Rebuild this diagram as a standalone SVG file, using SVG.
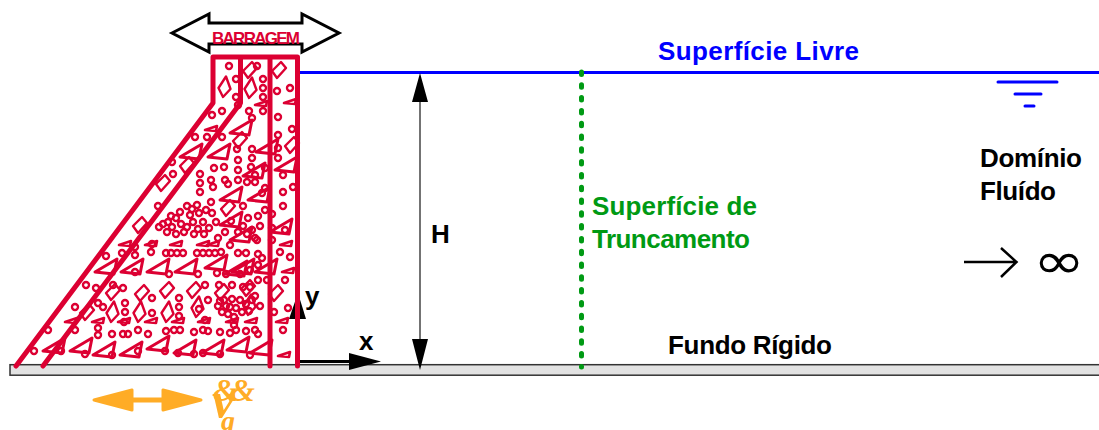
<svg xmlns="http://www.w3.org/2000/svg" width="1099" height="430" viewBox="0 0 1099 430">
<style>
text{font-family:"Liberation Sans",Arial,sans-serif;font-weight:bold;font-size:26px;fill:#000}
.r{fill:none;stroke:#dc0032;stroke-width:2.4;stroke-linejoin:round}
.w{fill:none;stroke:#dc0032;stroke-width:5;stroke-linejoin:round;stroke-linecap:round}
.b{fill:none;stroke:#0000ff;stroke-width:3;stroke-linecap:round}
.o{font-family:"Liberation Serif",serif;font-style:italic}
</style>
<defs>
<circle id="c" r="3" class="r"/>
<path id="t" class="r" style="stroke-width:3" d="M0 0L22-13 19 2Z"/>
<path id="s" class="r" style="stroke-width:2.6" d="M0 0L12-4 11 1Z"/>
<path id="d" class="r" d="M1-10.5L5.5 2-2 10-6.500 1Z"/>
<path id="e" class="r" d="M2-8L7-2-2 8-7 1Z"/>
</defs>
<g id="floor"><rect x="10" y="364.7" width="1095" height="10.5" fill="#e2e2e2" stroke="#333" stroke-width="1.5"/></g>
<g id="connectors">
<path class="b" d="M300 72.5H1099"/>
<path class="b" d="M998 82H1057M1015 94H1041M1025 106H1034"/>
<path d="M420 90V350" stroke="#444" stroke-width="1.5"/>
<path d="M420 73L428 102H412ZM420 370L428 339H412Z" fill="#000"/>
<path d="M581.5 72V367" fill="none" stroke="#009a14" stroke-width="5" stroke-linecap="round" stroke-dasharray="2.5 10.3"/>
<path d="M299 361.5H355" stroke="#000" stroke-width="3"/>
<path d="M381 361.5L349 353V370Z" fill="#000"/>
<path d="M298 293L306 319H289Z" fill="#000"/>
<path d="M964 262H1016M1001 248L1016.500 262 1001 277" fill="none" stroke="#000" stroke-width="2.500"/>
<path d="M94 400L132 390V410ZM201 400L163 390V410Z" fill="#ffac26" stroke="#ffac26" stroke-width="3" stroke-linejoin="round"/>
<path d="M130 400H165" stroke="#ffac26" stroke-width="5"/>
</g>
<g id="barragem-seta"><path d="M172 33L209 14V23H302V14L339 33 302 52V44H209V52Z" fill="#fff" stroke="#000" stroke-width="3"/></g>
<g id="barragem">
<path class="w" d="M16 366L213 103V57H297.500V366M43 366L240.500 103V57M270 57V366"/>
<g>
<use href="#c" x="229" y="66"/><use href="#c" x="236" y="79"/><use href="#c" x="236" y="97"/><use href="#c" x="257" y="66"/><use href="#c" x="263" y="79"/><use href="#c" x="263" y="88"/><use href="#c" x="263" y="97"/><use href="#c" x="277" y="91"/><use href="#c" x="290" y="88"/><use href="#c" x="212" y="115"/><use href="#c" x="222" y="111"/><use href="#c" x="249" y="111"/><use href="#c" x="238" y="105"/><use href="#c" x="263" y="111"/><use href="#c" x="278" y="117"/><use href="#c" x="292" y="129"/><use href="#c" x="252" y="118"/><use href="#c" x="278" y="148"/><use href="#c" x="195" y="137"/><use href="#c" x="207" y="137"/><use href="#c" x="222" y="137"/><use href="#c" x="237" y="149"/><use href="#c" x="252" y="149"/><use href="#c" x="278" y="135"/><use href="#c" x="252" y="158"/><use href="#c" x="278" y="158"/>
<use href="#c" x="172" y="162"/><use href="#c" x="173" y="174"/><use href="#c" x="200" y="174"/><use href="#c" x="200" y="183"/><use href="#c" x="200" y="192"/><use href="#c" x="211" y="202"/><use href="#c" x="211" y="180"/><use href="#c" x="213" y="187"/><use href="#c" x="224" y="167"/><use href="#c" x="214" y="168"/><use href="#c" x="225" y="180"/><use href="#c" x="228" y="184"/><use href="#c" x="238" y="170"/><use href="#c" x="238" y="160"/><use href="#c" x="238" y="180"/><use href="#c" x="251" y="167"/><use href="#c" x="255" y="175"/><use href="#c" x="247" y="182"/><use href="#c" x="255" y="182"/><use href="#c" x="283" y="175"/><use href="#c" x="283" y="192"/><use href="#c" x="283" y="206"/><use href="#c" x="293" y="187"/><use href="#c" x="265" y="168"/><use href="#c" x="265" y="188"/><use href="#c" x="243" y="206"/><use href="#c" x="231" y="221"/><use href="#c" x="262" y="193"/>
<use href="#c" x="158" y="206"/><use href="#c" x="187" y="206"/><use href="#c" x="192" y="209"/><use href="#c" x="197" y="205"/><use href="#c" x="199" y="213"/><use href="#c" x="206" y="210"/><use href="#c" x="212" y="213"/><use href="#c" x="159" y="227"/><use href="#c" x="168" y="222"/><use href="#c" x="172" y="227"/><use href="#c" x="167" y="232"/><use href="#c" x="176" y="218"/><use href="#c" x="181" y="224"/><use href="#c" x="176" y="234"/><use href="#c" x="187" y="227"/><use href="#c" x="193" y="222"/><use href="#c" x="198" y="229"/><use href="#c" x="203" y="222"/><use href="#c" x="194" y="234"/><use href="#c" x="204" y="234"/><use href="#c" x="209" y="228"/><use href="#c" x="216" y="222"/><use href="#c" x="238" y="232"/><use href="#c" x="243" y="226"/><use href="#c" x="247" y="234"/><use href="#c" x="252" y="230"/><use href="#c" x="260" y="226"/><use href="#c" x="255" y="238"/><use href="#c" x="272" y="228"/><use href="#c" x="285" y="230"/><use href="#c" x="272" y="240"/><use href="#c" x="272" y="214"/><use href="#c" x="163" y="224"/><use href="#c" x="171" y="216"/><use href="#c" x="184" y="232"/><use href="#c" x="190" y="215"/><use href="#c" x="180" y="212"/><use href="#c" x="225" y="232"/><use href="#c" x="218" y="238"/><use href="#c" x="265" y="210"/><use href="#c" x="258" y="216"/><use href="#c" x="248" y="218"/>
<use href="#c" x="152" y="244"/><use href="#c" x="135" y="255"/><use href="#c" x="122" y="253"/><use href="#c" x="135" y="247"/><use href="#c" x="151" y="252"/><use href="#c" x="166" y="253"/><use href="#c" x="171" y="253"/><use href="#c" x="177" y="253"/><use href="#c" x="183" y="253"/><use href="#c" x="197" y="253"/><use href="#c" x="203" y="253"/><use href="#c" x="209" y="253"/><use href="#c" x="215" y="253"/><use href="#c" x="221" y="252"/><use href="#c" x="230" y="245"/><use href="#c" x="238" y="253"/><use href="#c" x="246" y="253"/><use href="#c" x="258" y="254"/><use href="#c" x="262" y="258"/><use href="#c" x="257" y="240"/><use href="#c" x="280" y="252"/><use href="#c" x="290" y="257"/><use href="#c" x="106" y="256"/>
<use href="#c" x="135" y="272"/><use href="#c" x="169" y="274"/><use href="#c" x="198" y="274"/><use href="#c" x="217" y="273"/><use href="#c" x="226" y="274"/><use href="#c" x="240" y="274"/><use href="#c" x="250" y="270"/><use href="#c" x="258" y="265"/><use href="#c" x="258" y="280"/><use href="#c" x="285" y="280"/><use href="#c" x="267" y="280"/>
<use href="#c" x="86" y="285"/><use href="#c" x="96" y="288"/><use href="#c" x="123" y="288"/><use href="#c" x="113" y="285"/><use href="#c" x="205" y="285"/><use href="#c" x="219" y="285"/><use href="#c" x="232" y="285"/><use href="#c" x="243" y="287"/><use href="#c" x="250" y="287"/><use href="#c" x="98" y="303"/><use href="#c" x="75" y="307"/><use href="#c" x="103" y="307"/><use href="#c" x="125" y="303"/><use href="#c" x="125" y="312"/><use href="#c" x="152" y="298"/><use href="#c" x="152" y="313"/><use href="#c" x="179" y="298"/><use href="#c" x="179" y="307"/><use href="#c" x="179" y="316"/><use href="#c" x="208" y="300"/><use href="#c" x="199" y="309"/><use href="#c" x="220" y="301"/><use href="#c" x="226" y="306"/><use href="#c" x="222" y="312"/><use href="#c" x="228" y="314"/><use href="#c" x="232" y="299"/><use href="#c" x="236" y="308"/><use href="#c" x="246" y="304"/><use href="#c" x="249" y="311"/><use href="#c" x="255" y="296"/><use href="#c" x="260" y="306"/><use href="#c" x="234" y="317"/><use href="#c" x="234" y="325"/><use href="#c" x="274" y="312"/><use href="#c" x="288" y="308"/><use href="#c" x="124" y="322"/><use href="#c" x="205" y="320"/><use href="#c" x="218" y="306"/><use href="#c" x="224" y="300"/><use href="#c" x="230" y="307"/><use href="#c" x="240" y="300"/><use href="#c" x="242" y="312"/><use href="#c" x="252" y="300"/>
<use href="#c" x="48" y="330"/><use href="#c" x="75" y="330"/><use href="#c" x="98" y="335"/><use href="#c" x="98" y="328"/><use href="#c" x="112" y="334"/><use href="#c" x="123" y="334"/><use href="#c" x="128" y="334"/><use href="#c" x="138" y="330"/><use href="#c" x="148" y="334"/><use href="#c" x="166" y="331"/><use href="#c" x="174" y="330"/><use href="#c" x="180" y="330"/><use href="#c" x="194" y="332"/><use href="#c" x="203" y="330"/><use href="#c" x="208" y="331"/><use href="#c" x="220" y="332"/><use href="#c" x="230" y="333"/><use href="#c" x="236" y="330"/><use href="#c" x="246" y="331"/><use href="#c" x="255" y="330"/><use href="#c" x="258" y="334"/><use href="#c" x="283" y="330"/>
<use href="#c" x="34" y="351"/><use href="#c" x="61" y="351"/><use href="#c" x="85" y="354"/><use href="#c" x="112" y="355"/><use href="#c" x="138" y="351"/><use href="#c" x="165" y="351"/><use href="#c" x="178" y="353"/><use href="#c" x="194" y="354"/><use href="#c" x="220" y="354"/><use href="#c" x="203" y="353"/><use href="#c" x="250" y="355"/>
</g>
<g>
<use href="#d" x="225" y="87"/><use href="#e" x="250" y="70"/><use href="#d" x="251" y="88"/><use href="#e" x="279" y="70"/><use href="#e" x="292" y="145"/><use href="#e" x="187" y="165"/><use href="#e" x="163" y="183"/><use href="#e" x="228" y="208"/><use href="#e" x="240" y="140"/><use href="#e" x="140" y="225"/>
<use href="#e" x="113" y="292"/><use href="#d" x="113" y="312"/><use href="#e" x="142" y="293"/><use href="#d" x="140" y="312"/><use href="#e" x="167" y="290"/><use href="#d" x="168" y="312"/><use href="#e" x="194" y="290"/><use href="#d" x="198" y="307"/><use href="#e" x="222" y="292"/><use href="#e" x="248" y="288"/><use href="#d" x="250" y="305"/><use href="#e" x="276" y="293"/><use href="#e" x="87" y="312"/>
</g>
<g>
<use href="#t" x="180" y="157"/><use href="#t" x="208" y="157"/><use href="#t" x="230" y="133"/><use href="#t" x="220" y="200"/><use href="#t" x="248" y="200"/><use href="#t" x="275" y="170"/><use href="#t" x="243" y="176"/><use href="#t" x="256" y="152"/><use href="#t" x="220" y="225"/><use href="#t" x="270" y="232"/><use href="#t" x="230" y="240"/>
<use href="#t" x="95" y="272"/><use href="#t" x="121" y="272"/><use href="#t" x="147" y="272"/><use href="#t" x="175" y="272"/><use href="#t" x="205" y="268"/><use href="#t" x="225" y="274"/><use href="#t" x="232" y="272"/><use href="#t" x="255" y="272"/>
<use href="#t" x="43" y="351"/><use href="#t" x="70" y="351"/><use href="#t" x="93" y="355"/><use href="#t" x="120" y="355"/><use href="#t" x="147" y="349"/><use href="#t" x="174" y="353"/><use href="#t" x="202" y="353"/><use href="#t" x="227" y="350"/><use href="#t" x="250" y="353"/>
</g>
<g>
<use href="#s" x="205" y="130"/><use href="#s" x="255" y="105"/><use href="#s" x="284" y="103"/><use href="#s" x="119" y="245"/><use href="#s" x="145" y="245"/><use href="#s" x="170" y="245"/><use href="#s" x="197" y="245"/><use href="#s" x="207" y="245"/><use href="#s" x="280" y="245"/><use href="#s" x="282" y="272"/><use href="#s" x="65" y="322"/><use href="#s" x="92" y="322"/><use href="#s" x="118" y="322"/><use href="#s" x="145" y="322"/><use href="#s" x="172" y="322"/><use href="#s" x="198" y="322"/><use href="#s" x="226" y="322"/><use href="#s" x="245" y="322"/><use href="#s" x="276" y="322"/><use href="#s" x="278" y="356"/>
</g>
</g>
<g id="labels">
<text x="212" y="44" textLength="88" lengthAdjust="spacing" style="fill:#dc0032;font-size:17px">BARRAGEM</text>
<text x="658" y="60" textLength="201" lengthAdjust="spacing" style="fill:#0000ff">Superfície Livre</text>
<text x="592" y="215" textLength="165" lengthAdjust="spacing" style="fill:#009a14">Superfície de</text>
<text x="592" y="248" textLength="158" lengthAdjust="spacing" style="fill:#009a14">Truncamento</text>
<text x="431" y="243">H</text>
<text x="668" y="354" textLength="164" lengthAdjust="spacing">Fundo Rígido</text>
<text x="980" y="167" textLength="102" lengthAdjust="spacing">Domínio</text>
<text x="980" y="200" textLength="76" lengthAdjust="spacing">Fluído</text>
<text x="359" y="350">x</text>
<text x="305" y="305">y</text>
<text transform="translate(1033 278) scale(1.25 1)" style="font-family:'DejaVu Sans',sans-serif;font-weight:normal;font-size:50px">∞</text>
<text class="o" x="213" y="401" style="font-size:32px;fill:#ffac26;letter-spacing:-8px">&amp;&amp;</text>
<text class="o" x="212" y="417" style="font-size:50px;fill:#ffac26">v</text>
<text class="o" x="221" y="430" style="font-size:28px;fill:#ffac26">g</text>
</g>
</svg>
